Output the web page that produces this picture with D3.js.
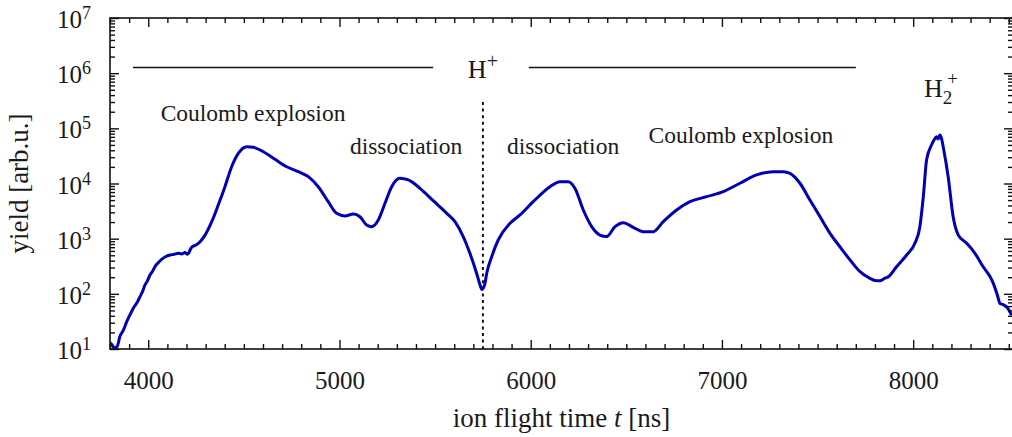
<!DOCTYPE html>
<html>
<head>
<meta charset="utf-8">
<script src="https://cdn.jsdelivr.net/npm/d3@7"></script>
<style>
  body { margin: 0; background: #fff; }
  text { font-family: "Liberation Serif", serif; fill: #1a1a1a; }
</style>
</head>
<body>
<script>
// flight time [ns] and yield [arb.u.]
var times = [3800, 3810, 3822, 3837, 3852, 3870, 3887, 3905, 3922, 3940, 3957, 3970, 3983, 3995,
  4009, 4022, 4035, 4050, 4070, 4090, 4114, 4135, 4157, 4175, 4192, 4205, 4227, 4250, 4271, 4297,
  4332, 4366, 4401, 4436, 4471, 4515, 4549, 4602, 4663, 4724, 4785, 4837, 4889, 4941, 4985, 5029,
  5072, 5107, 5142, 5168, 5203, 5238, 5273, 5316, 5360, 5421, 5490, 5561, 5604, 5647, 5682, 5717,
  5735, 5745, 5752, 5760, 5770, 5796, 5830, 5892, 5944, 6013, 6101, 6153, 6196, 6231, 6275, 6319,
  6362, 6397, 6441, 6484, 6536, 6589, 6641, 6693, 6763, 6833, 6920, 7007, 7094, 7181, 7268, 7320,
  7356, 7408, 7460, 7513, 7565, 7617, 7670, 7722, 7774, 7800, 7826, 7850, 7870, 7913, 7966, 8009,
  8035, 8053, 8070, 8096, 8110, 8122, 8130, 8140, 8150, 8157, 8183, 8209, 8236, 8280, 8323, 8366,
  8400, 8419, 8440, 8454, 8470, 8489, 8515];
var yields = [13, 12, 10.5, 11, 17, 22, 31, 42, 55, 68, 89, 110, 145, 170,
  220, 255, 310, 360, 420, 470, 505, 520, 545, 530, 560, 520, 700, 770, 880, 1160,
  2030, 4070, 8750, 20100, 35200, 46500, 45300, 37700, 27400, 20100, 16400, 13300, 8750, 4680, 2880, 2580,
  2800, 2500, 1770, 1650, 2180, 4380, 8750, 12400, 11600, 8180, 4880, 2880, 2030, 1090, 543, 236,
  145, 120, 128, 150, 236, 471, 946, 1900, 2690, 4680, 8750, 10800, 10800, 8180, 3310, 1650,
  1160, 1090, 1650, 1950, 1610, 1340, 1340, 2030, 3310, 4680, 5770, 7100, 10100, 14300, 16400, 16400,
  15300, 10100, 5020, 2500, 1250, 714, 410, 252, 191, 175, 173, 190, 204, 310, 506, 824,
  1650, 5770, 26700, 49900, 62000, 70500, 64000, 75700, 62000, 46500, 13300, 2500, 1160, 824, 543, 310,
  210, 155, 95, 67, 64, 58, 41];

var xMajor = [4000, 5000, 6000, 7000, 8000];
var yDecades = [1, 2, 3, 4, 5, 6, 7];

var width = 1012, height = 437;
var pL = 110, pR = 1013, pT = 18, pB = 349;

var svg = d3.select("body").append("svg")
  .attr("width", width)
  .attr("height", height);

var x = d3.scaleLinear().domain([3800, 8522]).range([pL, pR]);
var y = d3.scaleLog().domain([10, 1e7]).range([pB, pT]);

var xMinor = d3.range(3800, 8522, 100).filter(function(d) { return d % 1000 != 0; });
var yMajor = yDecades.map(function(k) { return Math.pow(10, k); });
var yMinor = [];
yDecades.slice(0, -1).forEach(function(k) {
  for (var m = 2; m < 10; m++) yMinor.push(m * Math.pow(10, k));
});

svg.append("clipPath").attr("id", "plot")
  .append("rect")
  .attr("x", pL).attr("y", pT)
  .attr("width", pR - pL).attr("height", pB - pT);

// annotations: H+ bars and divider
var barY = 1.27e6;
[[3920, 5490], [5990, 7700]].forEach(function(b) {
  svg.append("line")
    .attr("x1", x(b[0])).attr("x2", x(b[1]))
    .attr("y1", y(barY)).attr("y2", y(barY))
    .attr("stroke", "#111").attr("stroke-width", 1.6);
});

svg.append("line")
  .attr("x1", x(5750)).attr("x2", x(5750))
  .attr("y1", y(3e5)).attr("y2", pB)
  .attr("stroke", "#111").attr("stroke-width", 2)
  .attr("stroke-dasharray", "3,3.6");

// spectrum
var line = d3.line()
  .x(function(d, i) { return x(times[i]); })
  .y(function(d) { return y(d); })
  .curve(d3.curveMonotoneX);

svg.append("path")
  .datum(yields)
  .attr("clip-path", "url(#plot)")
  .attr("d", line)
  .attr("fill", "none")
  .attr("stroke", "#0000b4")
  .attr("stroke-width", 3)
  .attr("stroke-linejoin", "round");

// axes, ticks inward on all four sides
function style(g) {
  g.select(".domain").remove();
  g.selectAll(".tick line").attr("stroke", "#111").attr("stroke-width", 1.4);
}

svg.append("g").attr("transform", "translate(0," + pB + ")")
  .call(d3.axisBottom(x).tickValues(xMajor).tickSize(-9).tickPadding(22).tickFormat(d3.format("d")))
  .call(style)
  .selectAll("text").attr("font-size", 25).attr("font-family", "Liberation Serif").attr("fill", "#1a1a1a");
svg.append("g").attr("transform", "translate(0," + pB + ")")
  .call(d3.axisBottom(x).tickValues(xMinor).tickSize(-5).tickFormat(""))
  .call(style);
svg.append("g").attr("transform", "translate(0," + pT + ")")
  .call(d3.axisTop(x).tickValues(xMajor).tickSize(-9).tickFormat(""))
  .call(style);
svg.append("g").attr("transform", "translate(0," + pT + ")")
  .call(d3.axisTop(x).tickValues(xMinor).tickSize(-5).tickFormat(""))
  .call(style);

svg.append("g").attr("transform", "translate(" + pL + ",0)")
  .call(d3.axisLeft(y).tickValues(yMajor).tickSize(-9).tickFormat(""))
  .call(style);
svg.append("g").attr("transform", "translate(" + pL + ",0)")
  .call(d3.axisLeft(y).tickValues(yMinor).tickSize(-5).tickFormat(""))
  .call(style);
svg.append("g").attr("transform", "translate(" + pR + ",0)")
  .call(d3.axisRight(y).tickValues(yMajor).tickSize(-9).tickFormat(""))
  .call(style);
svg.append("g").attr("transform", "translate(" + pR + ",0)")
  .call(d3.axisRight(y).tickValues(yMinor).tickSize(-5).tickFormat(""))
  .call(style);

svg.append("rect")
  .attr("x", pL).attr("y", pT)
  .attr("width", pR - pL).attr("height", pB - pT)
  .attr("fill", "none").attr("stroke", "#111").attr("stroke-width", 1.6);

// y tick labels 10^k
yDecades.forEach(function(k) {
  var t = svg.append("text")
    .attr("x", 91).attr("y", y(Math.pow(10, k)) + 10)
    .attr("text-anchor", "end")
    .attr("font-size", 25);
  t.append("tspan").text("10");
  t.append("tspan").attr("dy", -9).attr("font-size", 18).text(k);
});

// axis titles
var xl = svg.append("text")
  .attr("x", (pL + pR) / 2).attr("y", 427)
  .attr("text-anchor", "middle")
  .attr("font-size", 27);
xl.append("tspan").text("ion flight time ");
xl.append("tspan").attr("font-style", "italic").text("t");
xl.append("tspan").text(" [ns]");

svg.append("text")
  .attr("transform", "translate(28," + (pT + pB) / 2 + ") rotate(-90)")
  .attr("text-anchor", "middle")
  .attr("font-size", 27)
  .text("yield [arb.u.]");

// region labels
var labels = [
  ["Coulomb explosion", 4548, 1.36e5],
  ["dissociation", 5348, 3.43e4],
  ["dissociation", 6169, 3.43e4],
  ["Coulomb explosion", 7099, 5.42e4]
];
labels.forEach(function(l) {
  svg.append("text")
    .attr("x", x(l[1])).attr("y", y(l[2]))
    .attr("text-anchor", "middle")
    .attr("font-size", 23.5)
    .text(l[0]);
});

var hp = svg.append("text")
  .attr("x", x(5750)).attr("y", y(barY) + 11)
  .attr("text-anchor", "middle")
  .attr("font-size", 26);
hp.append("tspan").text("H");
hp.append("tspan").attr("dy", -10).attr("font-size", 20).text("+");

var h2 = svg.append("text")
  .attr("x", x(8140) - 16).attr("y", 97)
  .attr("font-size", 26);
h2.append("tspan").text("H");
h2.append("tspan").attr("dy", 7).attr("font-size", 19).text("2");
h2.append("tspan").attr("dx", -5).attr("dy", -19).attr("font-size", 19).text("+");
</script>
</body>
</html>
